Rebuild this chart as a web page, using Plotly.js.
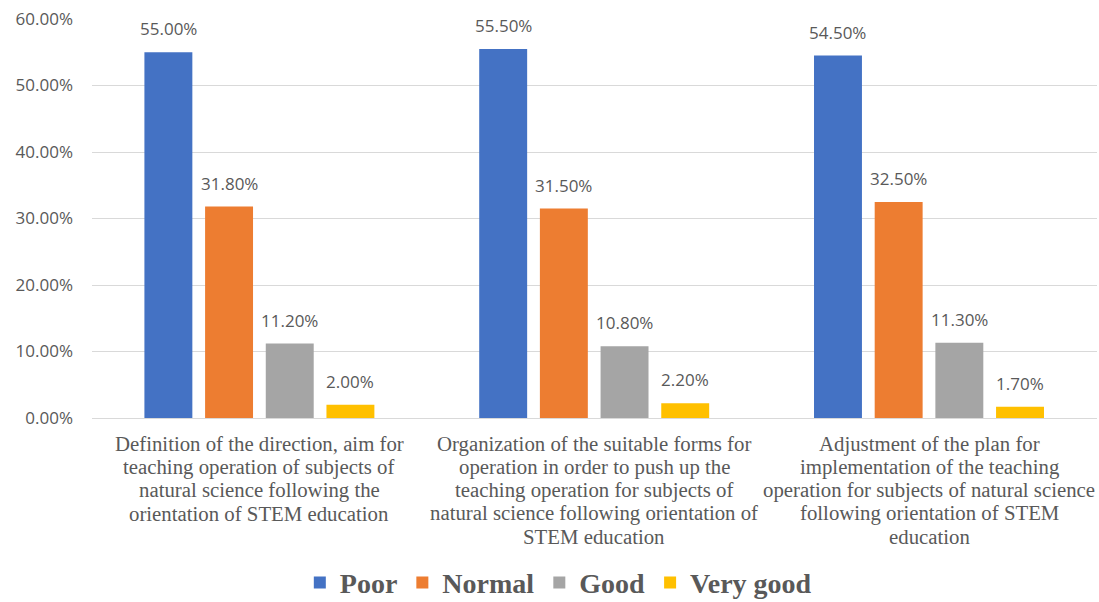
<!DOCTYPE html>
<html>
<head>
<meta charset="utf-8">
<script src="https://cdn.plot.ly/plotly-3.0.1.min.js"></script>
<style>html,body{margin:0;padding:0;background:#fff;}#chart{width:1099px;height:602px;}</style>
</head>
<body>
<div id="chart"></div>
<script>
var categories = [
  "Definition of the direction, aim for<br>teaching operation of subjects of<br>natural science following the<br>orientation of STEM education",
  "Organization of the suitable forms for<br>operation in order to push up the<br>teaching operation for subjects of<br>natural science following orientation of<br>STEM education",
  "Adjustment of the plan for<br>implementation of the teaching<br>operation for subjects of natural science<br>following orientation of STEM<br>education"
];
var seriesNames = ["Poor", "Normal", "Good", "Very good"];
var poor = [0.55, 0.555, 0.545];
var normal = [0.318, 0.315, 0.325];
var good = [0.112, 0.108, 0.113];
var veryGood = [0.02, 0.022, 0.017];
var yTickVals = [0, 0.1, 0.2, 0.3, 0.4, 0.5, 0.6];

var seriesValues = [poor, normal, good, veryGood];
var colors = ["#4472C4", "#ED7D31", "#A5A5A5", "#FFC000"];
var bargap = 0.275;
var step = (1 - bargap) / 4;

var traces = seriesValues.map(function (vals, j) {
  return {
    type: "bar",
    name: seriesNames[j],
    x: categories,
    y: vals,
    marker: {color: colors[j]},
    hoverinfo: "y"
  };
});

var annotations = [];
// data labels
seriesValues.forEach(function (vals, j) {
  vals.forEach(function (v, i) {
    annotations.push({
      xref: "x", yref: "y",
      x: i + (j - 1.5) * step,
      y: v,
      yanchor: "bottom",
      yshift: 10,
      showarrow: false,
      text: (v * 100).toFixed(2) + "%",
      font: {family: "Open Sans, sans-serif", size: 17, color: "#595959"}
    });
  });
});
// category labels, one annotation per line for tight line spacing
categories.forEach(function (c, i) {
  c.split("<br>").forEach(function (line, k) {
    annotations.push({
      xref: "x", yref: "paper",
      x: i, y: 0,
      yanchor: "middle",
      yshift: -(25.5 + k * 23.3),
      showarrow: false,
      text: line,
      font: {family: "Liberation Serif, serif", size: 20.8, color: "#595959"}
    });
  });
});

var layout = {
  width: 1099, height: 602,
  margin: {l: 92, r: 2, t: 19, b: 184, autoexpand: false},
  paper_bgcolor: "#ffffff", plot_bgcolor: "#ffffff",
  barmode: "group",
  bargap: bargap,
  bargroupgap: 0.21,
  showlegend: true,
  legend: {
    orientation: "h",
    x: 0.464, xanchor: "center",
    y: -0.413, yanchor: "middle",
    font: {family: "Liberation Serif, serif", size: 28, color: "#595959", weight: "bold"},
    itemclick: false
  },
  xaxis: {
    type: "category",
    showticklabels: false,
    showgrid: false,
    showline: true, linecolor: "#d9d9d9", linewidth: 1,
    ticks: "",
    automargin: false
  },
  yaxis: {
    range: [0, 0.6],
    tickvals: yTickVals,
    tickformat: ".2%",
    tickfont: {family: "Open Sans, sans-serif", size: 17, color: "#595959"},
    showgrid: true, gridcolor: "#d9d9d9", gridwidth: 1,
    zeroline: true, zerolinecolor: "#d9d9d9", zerolinewidth: 1,
    showline: false, ticks: "",
    ticklabelstandoff: 18,
    automargin: false
  },
  annotations: annotations
};

Plotly.newPlot("chart", traces, layout, {displayModeBar: false, responsive: false});
</script>
</body>
</html>
